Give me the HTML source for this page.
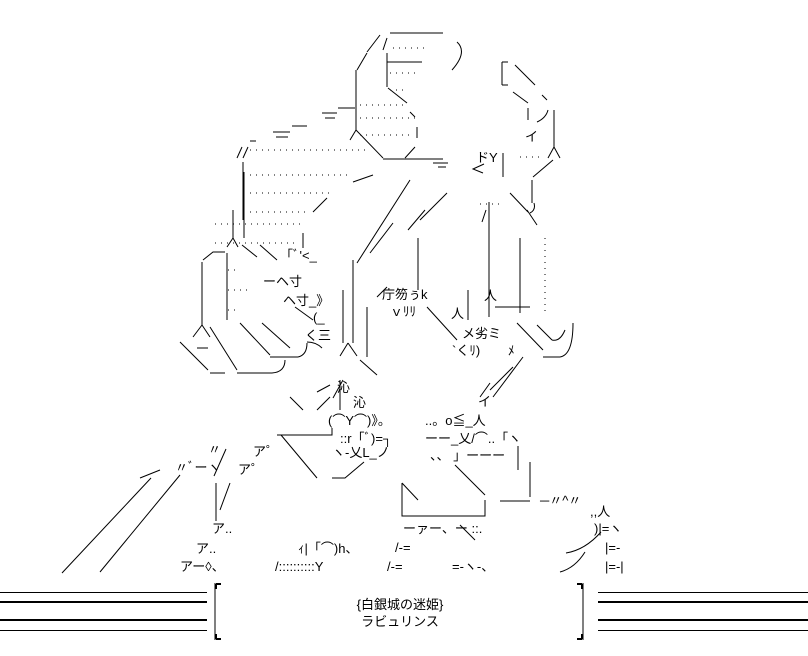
<!DOCTYPE html>
<html><head><meta charset="utf-8"><style>
html,body{margin:0;padding:0;background:#fff;}
svg{display:block}
text{font-family:"Liberation Sans","Noto Sans CJK JP",sans-serif;font-size:13px;fill:#000}
.l{stroke:#000;stroke-width:1;fill:none}
.d{stroke:#000;stroke-width:1;stroke-dasharray:1 5;fill:none}
</style></head><body>
<svg width="808" height="656" viewBox="0 0 808 656" xmlns="http://www.w3.org/2000/svg">
<g class="l">
<!-- hat -->
<path d="M390 33H443M380 35L367 52M387 38L383 50M367 53L357 70M356 70V130M387 53V87M387 62H422M457 42Q468 52 452 70"/>
<path d="M388 88L407 103M410 112L415 117M417 127V138M415 147L405 158M356 130L383 158M356 130L350 140M383 159H443M433 163H448M438 167H446"/>
<path d="M484 164L473 169L483 173"/>
<path d="M338 108H355M322 113H337M325 118H335M292 126H307M273 132H290M276 137H288M250 141H256"/>
<path d="M237 158L242 147M243 158L248 147M243 162V220M244 172V238"/>
<path d="M327 198L313 212M353 182L373 175M410 180L357 263M447 193L420 220M393 223L370 253M425 210L408 230M489 202V317M486 210L482 222"/>
<!-- right horn -->
<path d="M502 62V85M502 62H508M502 85H508M515 65L535 85M513 92L528 103M542 95L547 100M528 108V120M548 110Q546 118 537 122M554 110V147M554 147L548 158M554 147L560 158"/>
<path d="M503 153V177M553 160L533 177M532 180V203M510 193L528 212M534 203Q536 210 530 213"/>
<!-- face region -->
<path d="M233 210V238M233 238L227 247M233 238L238 247M242 245L257 257M260 245L277 260M303 233V248"/>
<path d="M225 252H213L203 260M202 262V325M202 325L193 337M202 325L210 337M227 253V320"/>
<path d="M180 342L208 370M210 373H225M197 348H208M210 327L237 370M237 373H272M272 373Q285 372 285 360"/>
<path d="M240 323L270 355M270 357H298M298 357Q307 355 307 343M262 323L290 348M295 307L313 320M307 342Q316 342 322 348"/>
<path d="M343 290V343M353 260V343M348 343L340 356M348 343L357 356M367 307V357M360 360L377 375M377 297L387 287"/>
<path d="M418 238V290M520 238V313M468 290V320M527 210L537 225M495 307H530"/>
<path d="M427 307L457 340M517 323L543 350M543 357H560M560 357Q573 355 573 323M537 325L552 340M552 340Q560 342 565 330"/>
<path d="M523 357L493 397M513 367L490 390M490 383L480 397M340 380V410M333 398L343 380M317 392L330 385M290 397L303 410M330 397L317 410"/>
</g>
<path class="d" d="M545 238V313"/>
<g class="d">
<path d="M393 48H425M390 73H420M390 90H405M360 105H405M360 118H415M360 135H412M250 150H370M250 175H350M250 193H330M250 212H310M215 224H300M215 243H298M520 157H543M480 204H500M228 270H240M228 290H250M228 310H235"/>
</g>
<!-- text fragments -->
<text x="476" y="162">ドY</text>
<text x="525" y="141">イ</text>
<text x="280" y="260">「ﾞ'&lt;_</text>
<text x="263" y="286">ーヘ寸</text>
<text x="283" y="305">ヘ寸_》</text>
<text x="313" y="322">(_</text>
<text x="305" y="340">く三</text>
<text x="382" y="299">庁笏ぅk</text>
<text x="390" y="316">ｖﾘﾘ</text>
<text x="451" y="318">人</text>
<text x="484" y="300">人</text>
<text x="462" y="338">メ劣ミ</text>
<text x="452" y="355">`くﾘ)</text>
<text x="508" y="355">ﾒ</text>
<text x="478" y="406">イ</text>
<text x="337" y="392">沁</text>
<text x="353" y="407">沁</text>
<!-- lower -->
<text x="328" y="425">(⌒Y⌒)》。</text>
<text x="425" y="425">..。o≦_人</text>
<text x="340" y="443">::r「ﾞ)=┐</text>
<text x="425" y="443">ーー_乂/⌒..「ヽ</text>
<text x="332" y="457">ヽ-乂L_ノ</text>
<text x="430" y="460">、、 」ーーー</text>
<text x="253" y="456">ア゜</text>
<text x="238" y="474">ア゜</text>
<text x="175" y="472">〃ﾞーヽ</text>
<text x="208" y="454">〃</text>
<text x="212" y="533">ア..</text>
<text x="196" y="553">ア..</text>
<text x="180" y="571">アー◊、</text>
<text x="298" y="553">ｨ|「⌒)h、</text>
<text x="275" y="571">/::::::::::Y</text>
<text x="403" y="533">ーァー、ー ::.</text>
<text x="395" y="552">/-=</text>
<text x="387" y="571">/-=</text>
<text x="452" y="571">=-ヽ-、</text>
<text x="590" y="516">,,人</text>
<text x="594" y="533">)|=ヽ</text>
<text x="605" y="552">|=-</text>
<text x="605" y="571">|=-|</text>
<text x="540" y="505">─〃^〃</text>
<g class="l">
<path d="M277 435H332V428M281 435L317 478M332 478H345L364 462M226 449L214 476M216 483V521M230 483L220 510"/>
<path d="M62 573L151 478M100 572L180 475M140 478L160 470"/>
<path d="M402 483V516H485V500M402 483L418 500M485 495L470 480M455 465L470 480M530 462V497M500 501H530M518 446V470"/>
<path d="M566 553Q585 550 601 532M560 572Q575 568 585 552M475 540L460 525"/>
</g>
<!-- bottom banner -->
<g class="l">
<path d="M0 592.5H207M0 630.5H207M598 592.5H808M598 630.5H808"/>
<path d="M0 602H207M0 620H207M598 602H808M598 620H808" stroke-width="2"/>
<path d="M215 583V640M583 583V640"/>
<path d="M216 584H221M216 584V589M582 584H577M582 584V589M216 639H221M216 639V634M582 639H577M582 639V634" stroke-width="2"/>
</g>
<text x="400" y="609" text-anchor="middle">{白銀城の迷姫}</text>
<text x="400" y="626" text-anchor="middle">ラビュリンス</text>
</svg>
</body></html>
